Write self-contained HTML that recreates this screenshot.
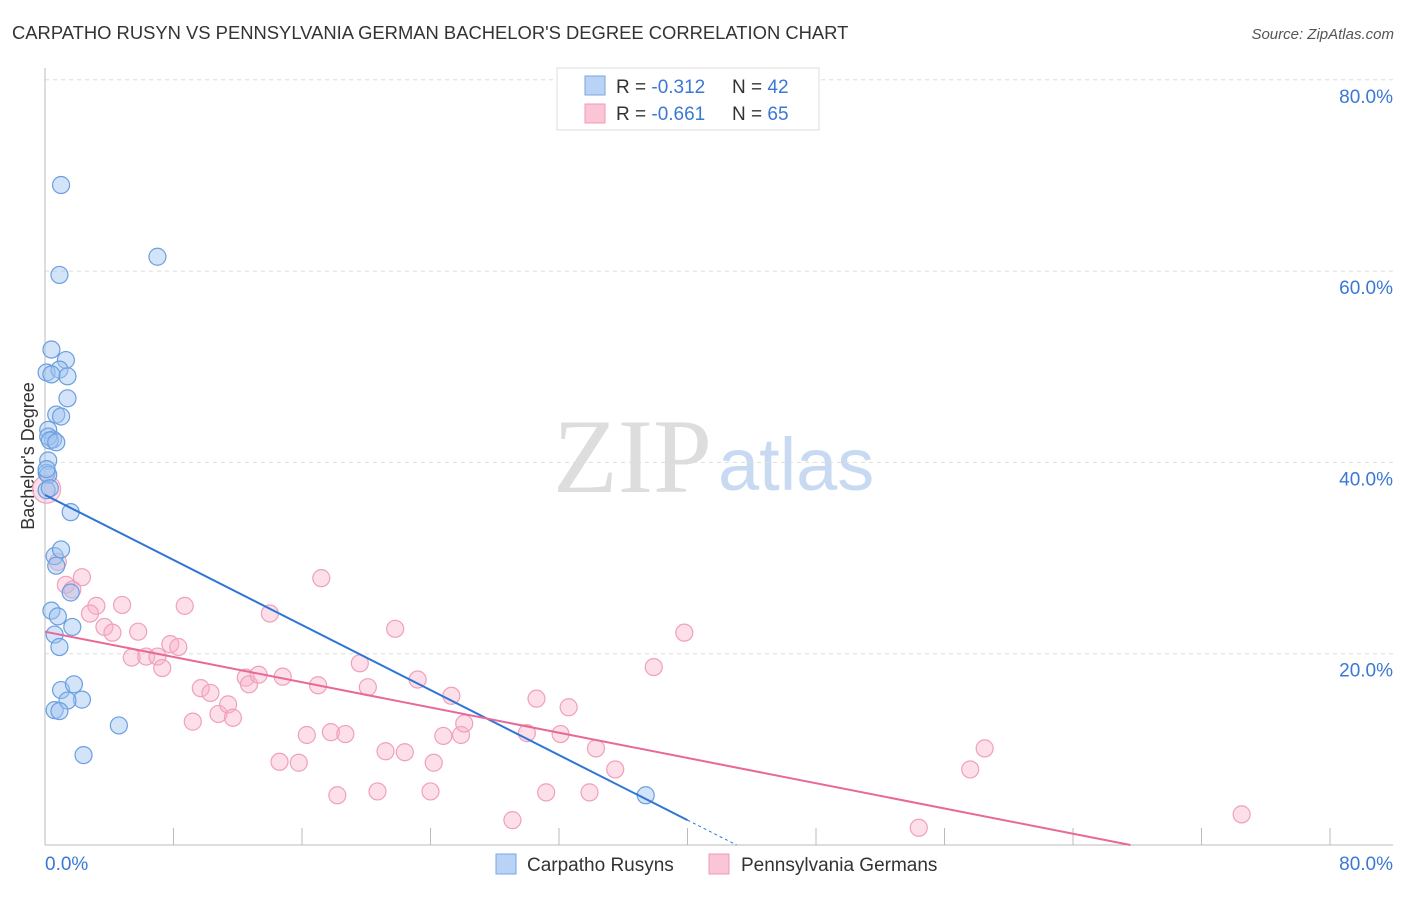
<!DOCTYPE html>
<html><head><meta charset="utf-8"><style>
body{margin:0;background:#fff;font-family:"Liberation Sans",sans-serif}
</style></head><body>
<svg id="c" width="1406" height="892" xmlns="http://www.w3.org/2000/svg" style="font-family:'Liberation Sans',sans-serif">
<text x="12" y="39" font-size="18.4" fill="#333">CARPATHO RUSYN VS PENNSYLVANIA GERMAN BACHELOR'S DEGREE CORRELATION CHART</text>
<text x="1394" y="39" font-size="15" fill="#555" font-style="italic" text-anchor="end">Source: ZipAtlas.com</text>
<text x="553" y="492" font-size="106" fill="#ddd" font-family="Liberation Serif,serif">ZIP</text>
<text x="718" y="490" font-size="74" fill="#c8daf2">atlas</text>
<text transform="translate(34,456) rotate(-90)" font-size="18" fill="#333" text-anchor="middle">Bachelor's Degree</text>
<g id="grid"></g><g id="pts"></g><g id="lines"></g>
<g>
<rect x="557" y="68" width="262" height="62" fill="#fff" stroke="#ddd"/>
<rect x="585" y="76" width="20" height="19" fill="#b8d3f5" stroke="#7aa7e0"/>
<rect x="585" y="104" width="20" height="19" fill="#fac6d6" stroke="#f09ab5"/>
<text x="616" y="93" font-size="19" fill="#333">R = <tspan fill="#3a78d6">-0.312</tspan></text>
<text x="732" y="93" font-size="19" fill="#333">N = <tspan fill="#3a78d6">42</tspan></text>
<text x="616" y="120" font-size="19" fill="#333">R = <tspan fill="#3a78d6">-0.661</tspan></text>
<text x="732" y="120" font-size="19" fill="#333">N = <tspan fill="#3a78d6">65</tspan></text>
</g>
<g>
<rect x="496" y="854" width="20" height="20" fill="#b8d3f5" stroke="#7aa7e0"/>
<text x="527" y="871" font-size="19" fill="#333">Carpatho Rusyns</text>
<rect x="709" y="854" width="20" height="20" fill="#fac6d6" stroke="#f09ab5"/>
<text x="741" y="871" font-size="19" fill="#333">Pennsylvania Germans</text>
</g>
<text x="45" y="870" font-size="19" fill="#3a78d6">0.0%</text>
<text x="1393" y="870" font-size="19" fill="#3a78d6" text-anchor="end">80.0%</text>
</svg>
<script>
const yTicks=[20,40,60,80];
const xTicks=[0,8,16,24,32,40,48,56,64,72,80];
const blueX=[1.0,7.0,0.9,0.4,1.3,0.1,0.9,1.4,0.4,1.4,0.7,1.0,0.2,0.5,0.2,0.3,0.2,0.1,0.2,0.1,1.6,0.6,1.0,0.4,0.8,1.6,0.7,0.6,1.7,0.9,1.0,1.8,2.3,1.4,0.6,0.9,4.6,2.4,37.4,0.1,0.3,0.7];
const blueY=[69.0,61.5,59.6,51.8,50.7,49.4,49.7,49.0,49.2,46.7,45.0,44.8,43.4,42.4,42.7,42.3,40.2,38.9,38.7,37.1,34.8,30.2,30.9,24.5,23.9,26.4,29.2,22.0,22.8,20.7,16.2,16.8,15.2,15.1,14.1,14.0,12.5,9.4,5.2,39.3,37.3,42.1];
const pinkX=[0.1,0.8,1.3,2.3,1.7,3.2,2.8,4.8,3.7,4.2,5.8,5.4,6.3,7.0,7.3,7.8,8.3,8.7,9.2,9.7,10.3,10.8,11.4,11.7,12.5,12.7,13.3,14.0,14.8,14.6,15.8,16.3,17.0,17.2,17.8,18.7,18.2,19.6,20.1,20.7,21.2,21.8,22.4,23.2,24.0,24.2,24.8,25.3,25.9,26.1,29.1,30.0,30.6,31.2,32.1,32.6,33.9,34.3,35.5,37.9,39.8,54.4,57.6,58.5,74.5];
const pinkY=[37.2,29.6,27.2,28.0,26.7,25.0,24.2,25.1,22.8,22.2,22.3,19.6,19.7,19.7,18.5,21.0,20.7,25.0,12.9,16.4,15.9,13.7,14.7,13.3,17.5,16.8,17.8,24.2,17.6,8.7,8.6,11.5,16.7,27.9,11.8,11.6,5.2,19.0,16.5,5.6,9.8,22.6,9.7,17.3,5.6,8.6,11.4,15.6,11.5,12.7,2.6,11.7,15.3,5.5,11.6,14.4,5.5,10.1,7.9,18.6,22.2,1.8,7.9,10.1,3.2];
const blueFit=[36.6,-0.85], pinkFit=[22.3,-0.33];
const X=v=>45+v*1285/80, Y=v=>845-v*765.2/80;
const NS='http://www.w3.org/2000/svg';
function mk(t,a,p){const e=document.createElementNS(NS,t);for(const k in a)e.setAttribute(k,a[k]);p.appendChild(e);return e;}
const g=document.getElementById('grid');
yTicks.forEach(t=>{
 const l=mk('line',{x1:45,x2:1393,y1:Y(t),y2:Y(t),stroke:'#ddd','stroke-dasharray':'4,4'},g);
 
 
 const tx=mk('text',{x:1393,y:Y(t)+23,'font-size':19,fill:'#3a78d6','text-anchor':'end'},g);
 tx.textContent=t.toFixed(1)+'%';
 
 
});
xTicks.forEach(t=>{
 const l=mk('line',{x1:X(t),x2:X(t),y1:828,y2:845,stroke:'#bbb'},g);
 
 
});
const ax=mk('line',{x1:45,x2:45,y1:68,y2:845,stroke:'#bbb'},g);


const bx=mk('line',{x1:45,x2:1393,y1:845,y2:845,stroke:'#bbb'},g);


const p=document.getElementById('pts');
pinkX.forEach((x,i)=>{
 const c=mk('circle',{cx:X(x),cy:Y(pinkY[i]),r:i==0?14:8.5,fill:'rgba(248,175,200,0.4)',stroke:'#f0a0ba','stroke-width':1.2},p);
 
 
});
blueX.forEach((x,i)=>{
 const c=mk('circle',{cx:X(x),cy:Y(blueY[i]),r:8.5,fill:'rgba(160,196,240,0.45)',stroke:'#6a9fe0','stroke-width':1.2},p);
 
 
});
const L=document.getElementById('lines');
const bl=mk('line',{x1:X(0),y1:Y(blueFit[0]),x2:X(40),y2:Y(blueFit[0]+blueFit[1]*40),stroke:'#2f75d6','stroke-width':2},L);


const bz=-blueFit[0]/blueFit[1];
const bd=mk('line',{x1:X(40),y1:Y(blueFit[0]+blueFit[1]*40),x2:X(bz),y2:Y(0),stroke:'#2f75d6','stroke-width':1,'stroke-dasharray':'3,3'},L);


const pz=-pinkFit[0]/pinkFit[1];
const pl=mk('line',{x1:X(0),y1:Y(pinkFit[0]),x2:X(pz),y2:Y(0),stroke:'#e8689a','stroke-width':2},L);


</script>
</body></html>
